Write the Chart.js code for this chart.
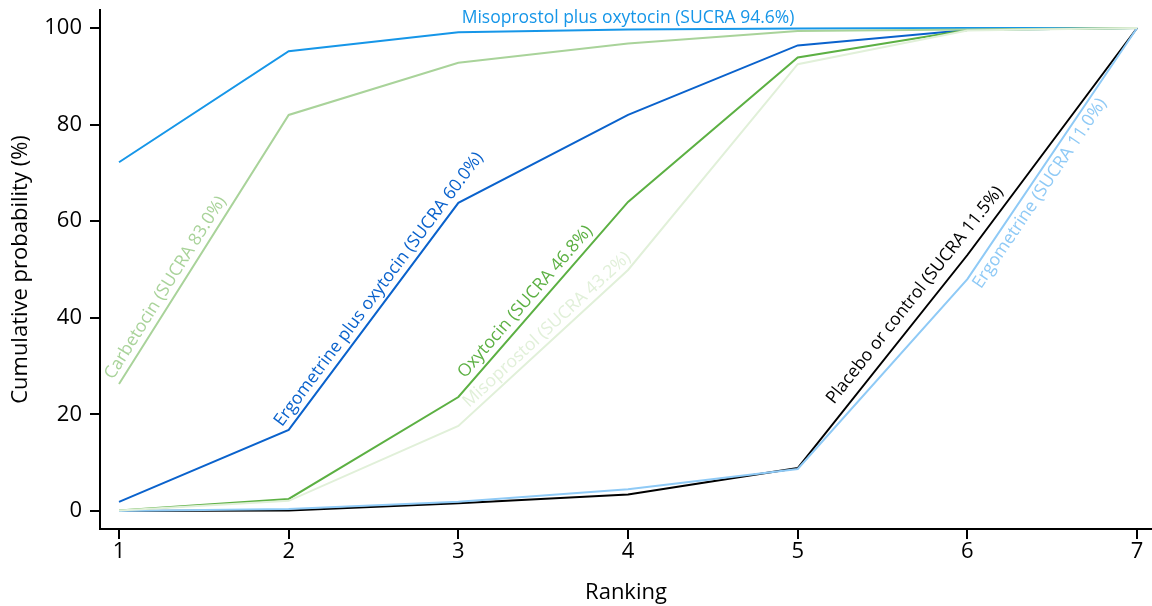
<!DOCTYPE html>
<html>
<head>
<meta charset="utf-8">
<script src="https://cdn.jsdelivr.net/npm/chart.js@4"></script>
<style>
  html, body { margin: 0; padding: 0; background: #fff; }
  #wrap { width: 1152px; height: 606px; }
</style>
</head>
<body>
<div id="wrap"><canvas id="c" width="1152" height="606"></canvas></div>
<script>
// Rank positions
const rankings = [1, 2, 3, 4, 5, 6, 7];

// Cumulative probability (%) of each treatment being within the top k ranks
const misoprostolPlusOxytocin = [72.2, 95.2, 99.1, 99.7, 99.9, 100, 100];
const carbetocin             = [26.3, 82.0, 92.8, 96.8, 99.4, 99.7, 100];
const ergometrinePlusOxytocin = [1.9, 16.8, 63.8, 82.0, 96.4, 99.6, 100];
const oxytocin               = [0.1, 2.5, 23.6, 64.0, 93.9, 99.6, 100];
const misoprostol            = [0.1, 2.1, 17.6, 49.9, 92.5, 99.5, 100];
const placeboOrControl       = [0.0, 0.1, 1.6, 3.4, 8.9, 53.0, 100];
const ergometrine            = [0.0, 0.4, 1.9, 4.5, 8.7, 48.0, 100];

// Tick labels
const xTicks = [1, 2, 3, 4, 5, 6, 7];
const yTicks = [0, 20, 40, 60, 80, 100];

// Series names
const names = [
  'Misoprostol plus oxytocin (SUCRA 94.6%)',
  'Carbetocin (SUCRA 83.0%)',
  'Ergometrine plus oxytocin (SUCRA 60.0%)',
  'Oxytocin (SUCRA 46.8%)',
  'Misoprostol (SUCRA 43.2%)',
  'Placebo or control (SUCRA 11.5%)',
  'Ergometrine (SUCRA 11.0%)'
];

const FONT = '"Open Sans", "Noto Sans", sans-serif';

// Series styles and label placement along a segment
// seg: segment start index; d: distance along segment; o: offset above the line (negative = below)
const styles = [
  { color: '#1696e8', label: { horizontal: true, x: 4, dy: 5 } },
  { color: '#a9d39a', label: { seg: 0, d: 0, o: 7 } },
  { color: '#0a62cc', label: { seg: 1, d: -2, o: 7 } },
  { color: '#5cb043', label: { seg: 2, d: 18, o: 7 } },
  { color: '#e1f0d9', label: { seg: 2, d: 20, o: 6 } },
  { color: '#000000', label: { seg: 4, d: 72, o: 11 } },
  { color: '#8fcaf6', label: { seg: 5, d: -1, o: -17 } }
];

const seriesValues = [misoprostolPlusOxytocin, carbetocin, ergometrinePlusOxytocin,
  oxytocin, misoprostol, placeboOrControl, ergometrine];

// Draw order: back to front
const order = [4, 6, 5, 1, 3, 2, 0];

const datasets = order.map(i => ({
  label: names[i],
  data: rankings.map((r, k) => ({ x: r, y: seriesValues[i][k] })),
  borderColor: styles[i].color,
  backgroundColor: styles[i].color,
  borderWidth: 2,
  pointRadius: 0,
  tension: 0,
  fill: false,
  labelCfg: styles[i].label
}));

// Writes each series name along its curve
const lineLabels = {
  id: 'lineLabels',
  afterDatasetsDraw(chart) {
    const ctx = chart.ctx;
    ctx.save();
    ctx.font = '17.5px ' + FONT;
    chart.data.datasets.forEach((ds, di) => {
      const meta = chart.getDatasetMeta(di);
      const cfg = ds.labelCfg;
      ctx.fillStyle = ds.borderColor;
      if (cfg.horizontal) {
        const px = chart.scales.x.getPixelForValue(cfg.x);
        const py = meta.data[meta.data.length - 1].y;
        ctx.textAlign = 'center';
        ctx.textBaseline = 'alphabetic';
        ctx.fillText(ds.label, px, py - cfg.dy);
        return;
      }
      const a = meta.data[cfg.seg];
      const b = meta.data[cfg.seg + 1];
      const ang = Math.atan2(b.y - a.y, b.x - a.x);
      ctx.save();
      ctx.translate(a.x, a.y);
      ctx.rotate(ang);
      ctx.textAlign = 'left';
      ctx.textBaseline = 'alphabetic';
      ctx.fillText(ds.label, cfg.d, -cfg.o);
      ctx.restore();
    });
    ctx.restore();
  }
};

new Chart(document.getElementById('c'), {
  type: 'line',
  data: { datasets },
  plugins: [lineLabels],
  options: {
    responsive: false,
    animation: false,
    layout: { padding: { top: 10, right: 0, left: 0, bottom: 0 } },
    plugins: {
      legend: { display: false },
      tooltip: { enabled: false }
    },
    scales: {
      x: {
        type: 'linear',
        min: 0.888,
        max: 7.088,
        afterBuildTicks(scale) { scale.ticks = xTicks.map(v => ({ value: v })); },
        afterFit(scale) {
          scale.height = 77;
          scale.paddingLeft = 0;
          scale.paddingRight = 0;
        },
        ticks: {
          color: '#000',
          font: { size: 22, family: FONT },
          padding: 0,
          maxRotation: 0,
          autoSkip: false
        },
        grid: {
          drawOnChartArea: false,
          drawTicks: true,
          tickLength: 10,
          tickWidth: 2,
          tickColor: '#000',
          lineWidth: 2
        },
        border: { display: true, color: '#000', width: 2 },
        title: {
          display: true,
          text: 'Ranking',
          color: '#000',
          font: { size: 22, family: FONT },
          padding: { top: 0, bottom: 0 }
        }
      },
      y: {
        type: 'linear',
        min: -3.73,
        max: 103.73,
        afterBuildTicks(scale) { scale.ticks = yTicks.map(v => ({ value: v })); },
        afterFit(scale) {
          scale.width = 100;
          scale.paddingTop = 0;
          scale.paddingBottom = 0;
        },
        ticks: {
          color: '#000',
          font: { size: 22, family: FONT },
          padding: 8
        },
        grid: {
          drawOnChartArea: false,
          drawTicks: true,
          tickLength: 10,
          tickWidth: 2,
          tickColor: '#000',
          lineWidth: 2
        },
        border: { display: true, color: '#000', width: 2 },
        title: {
          display: true,
          text: 'Cumulative probability (%)',
          color: '#000',
          font: { size: 22, family: FONT },
          padding: { top: 8, bottom: 4 }
        }
      }
    }
  }
});
</script>
</body>
</html>
